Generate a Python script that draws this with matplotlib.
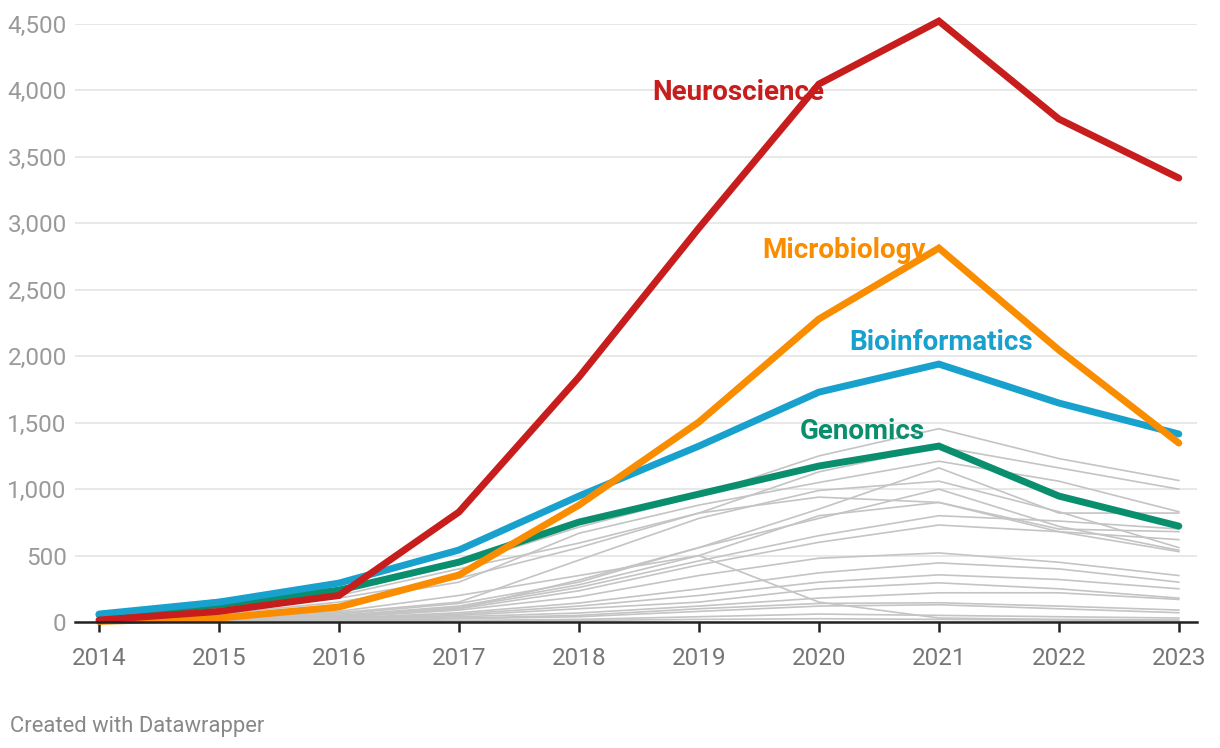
import matplotlib
matplotlib.use("Agg")
import matplotlib.pyplot as plt
from matplotlib.ticker import FuncFormatter

plt.rcParams['font.family'] = ['Roboto', 'DejaVu Sans']

years = [2014, 2015, 2016, 2017, 2018, 2019, 2020, 2021, 2022, 2023]

neuroscience = [15, 80, 200, 828, 1843, 2965, 4048, 4522, 3785, 3341]
microbiology = [5, 30, 113, 354, 880, 1505, 2280, 2814, 2047, 1347]
bioinformatics = [60, 150, 293, 542, 948, 1324, 1730, 1941, 1648, 1415]
genomics = [55, 130, 240, 451, 752, 963, 1174, 1324, 948, 722]

# the other fields, drawn in grey
others = [
    [50, 170, 250, 430, 714, 950, 1250, 1455, 1230, 1065],
    [30, 90, 180, 330, 560, 820, 1130, 1320, 1160, 1000],
    [10, 20, 40, 100, 316, 560, 850, 1160, 820, 820],
    [20, 60, 150, 300, 668, 880, 1050, 1210, 1060, 830],
    [30, 80, 200, 400, 594, 820, 940, 900, 700, 680],
    [10, 30, 70, 150, 466, 780, 990, 1060, 830, 560],
    [10, 25, 60, 140, 300, 560, 780, 1000, 720, 540],
    [10, 20, 50, 120, 280, 500, 800, 900, 680, 530],
    [10, 20, 45, 110, 260, 460, 650, 800, 760, 700],
    [8, 18, 40, 100, 235, 430, 600, 730, 680, 620],
    [5, 15, 35, 90, 190, 350, 480, 520, 450, 350],
    [5, 12, 30, 70, 143, 250, 370, 445, 400, 300],
    [4, 10, 25, 60, 120, 200, 300, 355, 320, 250],
    [3, 8, 20, 50, 100, 150, 250, 295, 250, 180],
    [3, 8, 18, 40, 68, 120, 180, 220, 220, 170],
    [2, 6, 14, 30, 50, 100, 140, 145, 120, 90],
    [2, 5, 10, 25, 40, 80, 120, 130, 100, 70],
    [10, 30, 80, 200, 350, 500, 150, 30, 20, 15],
    [1, 3, 6, 12, 20, 40, 60, 50, 40, 30],
    [1, 2, 4, 8, 12, 20, 25, 20, 15, 10],
]

highlights = [
    ("Genomics", genomics, "#0a8f6e", 2019.84, 1430),
    ("Bioinformatics", bioinformatics, "#18a1cd", 2020.25, 2107),
    ("Microbiology", microbiology, "#fa8c00", 2019.53, 2799),
    ("Neuroscience", neuroscience, "#c71e1d", 2018.61, 3988),
]

fig = plt.figure(figsize=(12.2, 7.48), dpi=100)
ax = fig.add_axes([0.0615, 0.1684, 0.9195, 0.7995])

for s in others:
    ax.plot(years, s, color="#c4c4c4", lw=1.2, zorder=2, clip_on=False)

for name, s, c, lx, ly in highlights:
    ax.plot(years, s, color=c, lw=5, zorder=3, clip_on=False,
            solid_capstyle="round", solid_joinstyle="miter")
    ax.text(lx, ly, name, color=c, fontsize=20, fontweight="bold",
            va="center", ha="left", zorder=5)

ax.set_xlim(2013.8, 2023.15)
ax.set_ylim(0, 4500)
ax.set_yticks(range(0, 4501, 500))
ax.yaxis.set_major_formatter(FuncFormatter(lambda v, p: f"{int(v):,}"))
ax.set_xticks(years)

ax.grid(axis="y", color="#e6e6e6", lw=1.3, zorder=0)
for sp in ["top", "right", "left"]:
    ax.spines[sp].set_visible(False)
ax.spines["bottom"].set_color("#222222")
ax.spines["bottom"].set_linewidth(1.8)
ax.spines["bottom"].set_zorder(4)

ax.tick_params(axis="y", length=0, pad=6, labelsize=17.5, labelcolor="#9a9a9a")
ax.tick_params(axis="x", length=7, width=1.8, color="#222222", pad=11,
               labelsize=17.5, labelcolor="#777777")

fig.text(0.008, 0.022, "Created with Datawrapper", fontsize=15.8, color="#888888")

fig.savefig("out.png", dpi=100)
